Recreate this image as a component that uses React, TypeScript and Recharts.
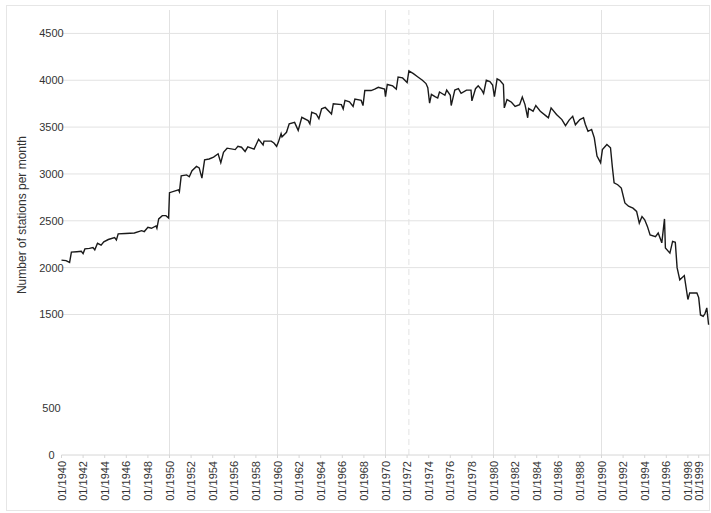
import { Line, LineChart, ReferenceLine, XAxis, YAxis } from "recharts";

const months = [
  // 1940s
  "1940-01", "1940-06", "1940-10", "1940-12", "1941-06", "1941-11", "1942-01", "1942-03", "1942-08", "1942-12",
  "1943-02", "1943-05", "1943-09", "1943-12", "1944-05", "1944-12", "1945-02", "1945-04", "1945-12", "1946-10",
  "1947-06", "1947-09", "1948-01", "1948-05", "1948-10", "1948-11", "1949-01", "1949-05", "1949-09", "1949-12",
  // 1950s
  "1950-01", "1950-11", "1950-12", "1951-02", "1951-08", "1951-11", "1952-02", "1952-07", "1952-10", "1953-01",
  "1953-04", "1953-09", "1954-02", "1954-07", "1954-10", "1955-01", "1955-05", "1956-02", "1956-05", "1956-09",
  "1957-01", "1957-04", "1957-11", "1958-04", "1958-09", "1958-10", "1959-06", "1959-09", "1959-12",
  // 1960s
  "1960-02", "1960-05", "1960-06", "1960-11", "1961-02", "1961-08", "1961-12", "1962-04", "1962-11", "1963-01",
  "1963-03", "1963-08", "1963-11", "1964-02", "1964-06", "1965-01", "1965-03", "1965-12", "1966-02", "1966-04",
  "1966-09", "1967-01", "1967-03", "1967-10", "1967-12", "1968-02", "1968-09", "1969-01", "1969-05", "1969-12",
  // 1970s
  "1970-01", "1970-03", "1970-09", "1971-01", "1971-03", "1971-08", "1972-01", "1972-03", "1972-08", "1973-01",
  "1973-06", "1973-10", "1973-12", "1974-02", "1974-04", "1974-08", "1974-11", "1975-01", "1975-07", "1975-09",
  "1976-01", "1976-02", "1976-06", "1976-10", "1977-01", "1977-07", "1977-12", "1978-01", "1978-05", "1978-08",
  "1978-12", "1979-02", "1979-05", "1979-09", "1979-12",
  // 1980s
  "1980-02", "1980-05", "1980-08", "1980-12", "1981-01", "1981-04", "1981-09", "1982-01", "1982-06", "1982-09",
  "1982-12", "1983-03", "1983-04", "1983-09", "1983-12", "1984-05", "1984-12", "1985-02", "1985-05", "1985-11",
  "1986-05", "1986-09", "1987-01", "1987-05", "1987-08", "1988-01", "1988-05", "1988-07", "1988-10", "1989-02",
  "1989-05", "1989-08", "1989-12",
  // 1990s
  "1990-02", "1990-07", "1990-11", "1991-01", "1991-03", "1991-07", "1991-11", "1992-03", "1992-07", "1992-12",
  "1993-04", "1993-07", "1993-10", "1994-01", "1994-04", "1994-07", "1995-01", "1995-04", "1995-08", "1995-11",
  "1995-12", "1996-05", "1996-08", "1996-11", "1997-01", "1997-04", "1997-09", "1998-01", "1998-03", "1998-11",
  "1999-01", "1999-03", "1999-06", "1999-08", "1999-10", "1999-12",
];

const stations = [
  // 1940s
  2080, 2075, 2055, 2165, 2170, 2175, 2150, 2200, 2205, 2215,
  2190, 2260, 2240, 2275, 2300, 2320, 2295, 2360, 2365, 2370,
  2395, 2385, 2430, 2420, 2445, 2420, 2520, 2555, 2555, 2530,
  // 1950s
  2800, 2830, 2810, 2980, 2990, 2970, 3035, 3080, 3065, 2955,
  3150, 3160, 3180, 3215, 3120, 3230, 3275, 3260, 3295, 3285,
  3240, 3290, 3265, 3370, 3310, 3350, 3350, 3330, 3295,
  // 1960s
  3340, 3430, 3395, 3445, 3535, 3550, 3465, 3605, 3570, 3535,
  3660, 3640, 3590, 3695, 3710, 3640, 3750, 3740, 3695, 3785,
  3770, 3720, 3800, 3785, 3730, 3890, 3890, 3905, 3925, 3905,
  // 1970s
  3825, 3955, 3940, 3905, 4035, 4025, 3975, 4100, 4070, 4035,
  4000, 3965, 3920, 3755, 3850, 3825, 3810, 3875, 3840, 3895,
  3840, 3730, 3895, 3910, 3860, 3895, 3895, 3780, 3910, 3940,
  3895, 3860, 4000, 3985, 3950,
  // 1980s
  3825, 4015, 4000, 3955, 3705, 3795, 3765, 3720, 3740, 3820,
  3740, 3600, 3700, 3670, 3730, 3670, 3615, 3600, 3705, 3635,
  3580, 3515, 3575, 3615, 3525, 3580, 3600, 3530, 3455, 3475,
  3385, 3190, 3120,
  // 1990s
  3260, 3315, 3280, 3080, 2905, 2885, 2850, 2690, 2655, 2635,
  2600, 2475, 2545, 2510, 2440, 2350, 2330, 2370, 2265, 2520,
  2210, 2155, 2280, 2270, 2000, 1870, 1915, 1660, 1730, 1730,
  1680, 1495, 1480, 1510, 1570, 1390,
];

const xTicks = [
  1940, 1942, 1944, 1946, 1948, 1950, 1952, 1954, 1956, 1958, 1960, 1962, 1964, 1966, 1968,
  1970, 1972, 1974, 1976, 1978, 1980, 1982, 1984, 1986, 1988, 1990, 1992, 1994, 1996, 1998, 1999,
];
const yTicks = [0, 500, 1500, 2000, 2500, 3000, 3500, 4000, 4500];
const gridValues = [1500, 2000, 2500, 3000, 3500, 4000, 4500];
const decadeLines = [1950, 1960, 1970, 1980, 1990];
const peakMonth = "1972-03";

const toYear = (m: string) => {
  const [y, mo] = m.split("-").map(Number);
  return y + (mo - 1) / 12;
};

const data = months.map((m, i) => ({ t: toYear(m), stations: stations[i] }));

const textColor = "#333";
const gridColor = "#e2e2e2";

const XTick = ({ x, payload }: any) => {
  const top = 461;
  return (
    <text
      x={x}
      y={top}
      transform={`rotate(-90 ${x} ${top})`}
      textAnchor="end"
      dominantBaseline="central"
      fontSize={11}
      fill={textColor}
    >
      {`01/${payload.value}`}
    </text>
  );
};

const YTick = ({ y, payload }: any) => (
  <text x={51.5} y={y} textAnchor="middle" dominantBaseline="central" fontSize={11} fill={textColor}>
    {payload.value}
  </text>
);

export default function App() {
  return (
    <div
      style={{
        position: "absolute",
        left: 0,
        top: 0,
        width: 711,
        height: 513,
        fontFamily: "'Liberation Sans', Arial, sans-serif",
        background: "#fff",
      }}
    >
      <div
        style={{
          position: "absolute",
          left: 6,
          top: 5,
          width: 704,
          height: 506,
          border: "1px solid #e6e6e6",
          boxSizing: "border-box",
        }}
      />
      <div
        style={{
          position: "absolute",
          left: 22 - 100,
          top: 215 - 8,
          width: 200,
          height: 16,
          lineHeight: "16px",
          fontSize: 12,
          color: textColor,
          textAlign: "center",
          transform: "rotate(-90deg)",
          whiteSpace: "nowrap",
        }}
      >
        Number of stations per month
      </div>
      <LineChart
        width={711}
        height={513}
        data={data}
        margin={{ top: 10, right: 1.5, bottom: 8, left: 0 }}
        style={{ position: "absolute", left: 0, top: 0 }}
      >
        <XAxis
          dataKey="t"
          type="number"
          domain={[1940, 2000]}
          ticks={xTicks}
          interval={0}
          height={50}
          stroke="#d6d6d6"
          tickSize={3}
          tick={<XTick />}
        />
        <YAxis
          type="number"
          domain={[0, 4750]}
          ticks={yTicks}
          interval={0}
          width={61.5}
          axisLine={false}
          tickLine={false}
          tick={<YTick />}
        />
        {gridValues.map((v) => (
          <ReferenceLine key={`h${v}`} y={v} stroke={gridColor} strokeWidth={1} />
        ))}
        {decadeLines.map((v) => (
          <ReferenceLine key={`v${v}`} x={v} stroke={gridColor} strokeWidth={1} />
        ))}
        <ReferenceLine x={toYear(peakMonth)} stroke={gridColor} strokeDasharray="6 4" />
        <Line
          type="linear"
          dataKey="stations"
          stroke="#1a1a1a"
          strokeWidth={1.4}
          dot={false}
          isAnimationActive={false}
        />
      </LineChart>
    </div>
  );
}
